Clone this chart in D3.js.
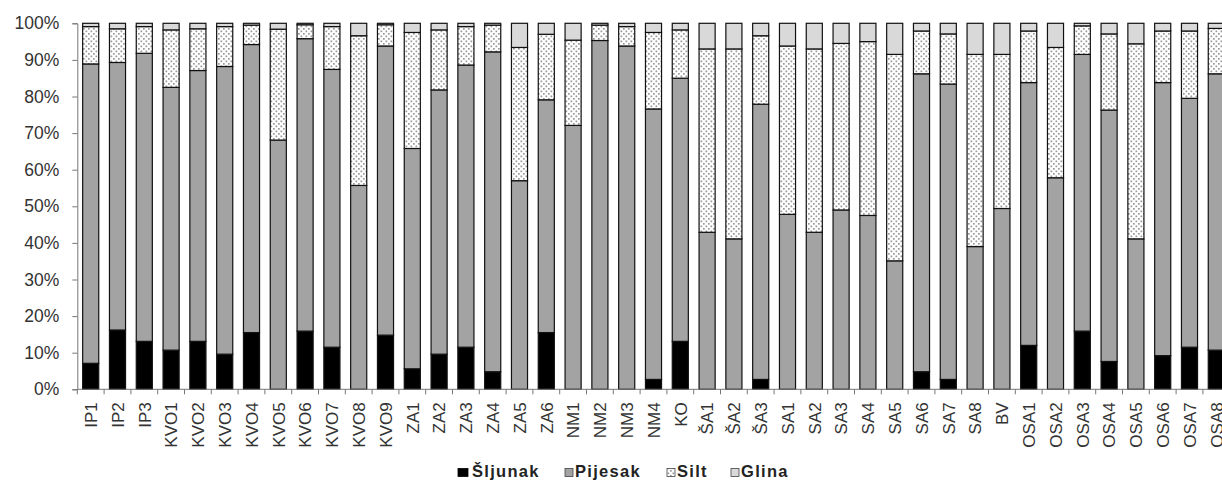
<!DOCTYPE html>
<html>
<head>
<meta charset="utf-8">
<script src="https://cdn.jsdelivr.net/npm/d3@7"></script>
<style>
	body { margin: 0; background: #fff; }
	svg text { font-family: "Liberation Sans", Arial, sans-serif; }
</style>
</head>
<body>
<svg id="chart"></svg>
<script>
const categories = [
	"IP1", "IP2", "IP3", "KVO1", "KVO2", "KVO3", "KVO4", "KVO5", "KVO6", "KVO7", "KVO8", "KVO9",
	"ZA1", "ZA2", "ZA3", "ZA4", "ZA5", "ZA6", "NM1", "NM2", "NM3", "NM4", "KO",
	"ŠA1", "ŠA2", "ŠA3", "SA1", "SA2", "SA3", "SA4", "SA5", "SA6", "SA7", "SA8", "BV",
	"OSA1", "OSA2", "OSA3", "OSA4", "OSA5", "OSA6", "OSA7", "OSA8"
];

const sljunak = [7.1, 16.2, 13.1, 10.7, 13.1, 9.6, 15.5, 0, 15.9, 11.5, 0, 14.8,
	5.6, 9.6, 11.5, 4.8, 0, 15.5, 0, 0, 0, 2.7, 13.1,
	0, 0, 2.7, 0, 0, 0, 0, 0, 4.8, 2.7, 0, 0,
	12.0, 0, 15.9, 7.6, 0, 9.2, 11.5, 10.7];
const pijesak = [81.8, 73.1, 78.7, 71.8, 74.0, 78.6, 78.7, 68.1, 79.9, 75.9, 55.7, 79.0,
	60.2, 72.2, 77.1, 87.4, 57.0, 63.6, 72.1, 95.3, 93.8, 73.9, 71.9,
	42.9, 41.1, 75.2, 47.8, 42.9, 49.0, 47.5, 35.1, 81.4, 80.7, 39.0, 49.4,
	71.8, 57.8, 75.6, 68.7, 41.1, 74.6, 68.0, 75.5];
const silt = [10.2, 9.2, 7.3, 15.7, 11.4, 10.9, 5.3, 30.3, 3.8, 11.7, 40.9, 5.8,
	31.7, 16.4, 10.5, 7.3, 36.4, 17.9, 23.3, 4.2, 5.3, 20.9, 13.2,
	50.1, 51.9, 18.7, 46.0, 50.1, 45.5, 47.5, 56.4, 11.7, 13.7, 52.5, 42.1,
	14.1, 35.6, 7.8, 20.8, 53.3, 14.1, 18.4, 12.4];
const glina = [0.9, 1.5, 0.9, 1.8, 1.5, 0.9, 0.5, 1.6, 0.4, 0.9, 3.4, 0.4,
	2.5, 1.8, 0.9, 0.5, 6.6, 3.0, 4.6, 0.5, 0.9, 2.5, 1.8,
	7.0, 7.0, 3.4, 6.2, 7.0, 5.5, 5.0, 8.5, 2.1, 2.9, 8.5, 8.5,
	2.1, 6.6, 0.7, 2.9, 5.6, 2.1, 2.1, 1.4];

const seriesNames = ["Šljunak", "Pijesak", "Silt", "Glina"];
const yTicks = [0, 10, 20, 30, 40, 50, 60, 70, 80, 90, 100];

const width = 1222;
const height = 487;

const rows = categories.map((c, i) => ({
	cat: c,
	"Šljunak": sljunak[ i ],
	"Pijesak": pijesak[ i ],
	"Silt": silt[ i ],
	"Glina": glina[ i ]
}));

const svg = d3.select("#chart")
	.attr("width", width)
	.attr("height", height);

// dotted fill for silt
const pattern = svg.append("defs")
	.append("pattern")
	.attr("id", "dots")
	.attr("patternUnits", "userSpaceOnUse")
	.attr("width", 5)
	.attr("height", 5);
pattern.append("rect").attr("width", 5).attr("height", 5).attr("fill", "#fff");
pattern.append("rect").attr("x", 0.5).attr("y", 0.5).attr("width", 1.7).attr("height", 1.7).attr("fill", "#999");
pattern.append("rect").attr("x", 3).attr("y", 3).attr("width", 1.7).attr("height", 1.7).attr("fill", "#999");

const fills = {
	"Šljunak": "#000",
	"Pijesak": "#a3a3a3",
	"Silt": "url(#dots)",
	"Glina": "#d9d9d9"
};

const x = d3.scaleBand()
	.domain(categories)
	.range([ 77.3, 1229.7 ])
	.paddingInner(0.4)
	.paddingOuter(0.2);

const y = d3.scaleLinear()
	.domain([ 0, 100 ])
	.range([ 389.3, 23.3 ]);

const stacked = d3.stack().keys(seriesNames)(rows);

svg.append("g")
	.selectAll("g")
	.data(stacked)
	.enter()
	.append("g")
	.attr("fill", (d) => fills[ d.key ])
	.selectAll("rect")
	.data((d) => d)
	.enter()
	.append("rect")
	.attr("x", (d) => x(d.data.cat))
	.attr("width", x.bandwidth())
	.attr("y", (d) => y(d[ 1 ]))
	.attr("height", (d) => y(d[ 0 ]) - y(d[ 1 ]))
	.attr("stroke", "#111")
	.attr("stroke-width", 1.2);

// y axis
const yAxis = svg.append("g")
	.attr("transform", `translate(${x.range()[ 0 ]},0)`)
	.call(d3.axisLeft(y).tickValues(yTicks).tickFormat((d) => d + "%").tickSize(5).tickPadding(13));
yAxis.select(".domain").attr("stroke", "#777");
yAxis.selectAll(".tick line").attr("stroke", "#777");
yAxis.selectAll("text")
	.attr("font-size", 17.5)
	.attr("fill", "#333");

// x axis: ticks sit between the categories
const step = x.step();
const boundaries = d3.range(categories.length + 1).map((i) => x.range()[ 0 ] + i * step);
const xAxis = svg.append("g");
xAxis.append("line")
	.attr("x1", x.range()[ 0 ])
	.attr("x2", x.range()[ 1 ])
	.attr("y1", y(0))
	.attr("y2", y(0))
	.attr("stroke", "#777");
xAxis.selectAll("line.tick")
	.data(boundaries)
	.enter()
	.append("line")
	.attr("class", "tick")
	.attr("x1", (d) => d)
	.attr("x2", (d) => d)
	.attr("y1", y(0))
	.attr("y2", y(0) + 5)
	.attr("stroke", "#777");
xAxis.selectAll("text")
	.data(categories)
	.enter()
	.append("text")
	.attr("transform", (d) => `translate(${x(d) + x.bandwidth() / 2 + 6.3},${y(0) + 13}) rotate(-90)`)
	.attr("text-anchor", "end")
	.attr("font-size", 17)
	.attr("fill", "#333")
	.text((d) => d);

// legend
const legendX = [ 458, 565, 667, 731 ];
const legend = svg.append("g")
	.selectAll("g")
	.data(seriesNames)
	.enter()
	.append("g")
	.attr("transform", (d, i) => `translate(${legendX[ i ]},477)`);
legend.append("rect")
	.attr("x", 0)
	.attr("y", -8.5)
	.attr("width", (d, i) => (i === 0 ? 10 : 8))
	.attr("height", 8)
	.attr("fill", (d) => fills[ d ])
	.attr("stroke", (d) => (d === "Šljunak" ? "#000" : "#444"))
	.attr("stroke-width", 0.8);
legend.append("text")
	.attr("x", (d, i) => (i === 0 ? 14 : 10))
	.attr("y", 0)
	.attr("font-size", 16.5)
	.attr("font-weight", "bold")
	.attr("letter-spacing", 1.3)
	.attr("fill", "#222")
	.text((d) => d);
</script>
</body>
</html>
